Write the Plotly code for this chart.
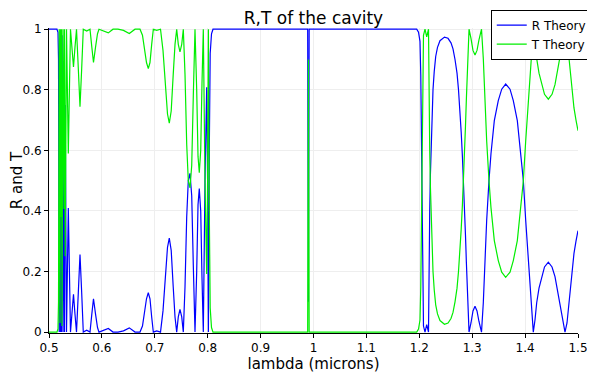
import plotly.graph_objects as go

# wavelength samples (microns)
lam = [
    0.5000, 0.5150, 0.5170, 0.5180, 0.5193, 0.5208, 0.5217, 0.5227, 0.5236, 0.5246,
    0.5265, 0.5284, 0.5293, 0.5306, 0.5331, 0.5365, 0.5406, 0.5435, 0.5463, 0.5491,
    0.5520, 0.5554, 0.5586, 0.5618, 0.5648, 0.5713, 0.5775, 0.5807, 0.5841, 0.5879,
    0.5917, 0.5945, 0.6030, 0.6121, 0.6210, 0.6304, 0.6408, 0.6518, 0.6626, 0.6720,
    0.6767, 0.6805, 0.6843, 0.6877, 0.6909, 0.6941, 0.6972, 0.7036, 0.7108, 0.7155,
    0.7202, 0.7240, 0.7274, 0.7310, 0.7348, 0.7382, 0.7414, 0.7444, 0.7476, 0.7509,
    0.7539, 0.7571, 0.7603, 0.7633, 0.7665, 0.7698, 0.7728, 0.7760, 0.7792, 0.7817,
    0.7841, 0.7868, 0.7892, 0.7917, 0.7949, 0.7981, 0.7998, 0.8013, 0.8030, 0.8047,
    0.8072, 0.8100, 0.9890, 0.9904, 0.9918, 1.1951, 1.1985, 1.2013, 1.2028, 1.2047,
    1.2064, 1.2079, 1.2108, 1.2140, 1.2174, 1.2183, 1.2197, 1.2210, 1.2225, 1.2240,
    1.2259, 1.2282, 1.2310, 1.2344, 1.2391, 1.2476, 1.2543, 1.2599, 1.2637, 1.2675,
    1.2713, 1.2741, 1.2769, 1.2792, 1.2815, 1.2836, 1.2855, 1.2873, 1.2890, 1.2907,
    1.2924, 1.2940, 1.2977, 1.3015, 1.3053, 1.3091, 1.3128, 1.3176, 1.3210, 1.3242,
    1.3274, 1.3318, 1.3355, 1.3418, 1.3493, 1.3558, 1.3633, 1.3715, 1.3777, 1.3853,
    1.3917, 1.3966, 1.4011, 1.4055, 1.4112, 1.4155, 1.4187, 1.4219, 1.4263, 1.4314,
    1.4367, 1.4439, 1.4509, 1.4565, 1.4609, 1.4647, 1.4698, 1.4754, 1.4792, 1.4830,
    1.4877, 1.4924, 1.4962, 1.5000,
]

# reflectance
R_theory = [
    1.000, 1.000, 0.990, 0.900, 0.000, 0.970, 0.000, 0.620, 0.000, 0.980,
    0.000, 0.594, 0.000, 0.750, 0.000, 0.410, 0.000, 0.060, 0.125, 0.060,
    0.000, 0.130, 0.256, 0.130, 0.000, 0.006, 0.000, 0.055, 0.110, 0.060,
    0.015, 0.000, 0.006, 0.012, 0.000, 0.000, 0.004, 0.014, 0.000, 0.000,
    0.020, 0.060, 0.110, 0.130, 0.110, 0.050, 0.000, 0.004, 0.000, 0.070,
    0.190, 0.280, 0.310, 0.270, 0.150, 0.050, 0.000, 0.050, 0.075, 0.050,
    0.000, 0.150, 0.380, 0.500, 0.524, 0.450, 0.220, 0.000, 0.200, 0.420,
    0.474, 0.400, 0.180, 0.000, 0.500, 0.808, 0.500, 0.000, 0.600, 0.920,
    0.985, 1.000, 1.000, 0.100, 1.000, 1.000, 0.990, 0.960, 0.850, 0.500,
    0.150, 0.020, 0.000, 0.025, 0.000, 0.220, 0.400, 0.520, 0.630, 0.720,
    0.800, 0.860, 0.910, 0.940, 0.962, 0.974, 0.970, 0.955, 0.935, 0.900,
    0.855, 0.800, 0.735, 0.660, 0.580, 0.500, 0.410, 0.320, 0.230, 0.140,
    0.060, 0.000, 0.030, 0.070, 0.085, 0.070, 0.035, 0.000, 0.097, 0.261,
    0.370, 0.502, 0.589, 0.698, 0.764, 0.802, 0.819, 0.802, 0.764, 0.698,
    0.589, 0.502, 0.370, 0.261, 0.097, 0.000, 0.040, 0.097, 0.145, 0.183,
    0.215, 0.231, 0.215, 0.183, 0.140, 0.097, 0.045, 0.000, 0.030, 0.097,
    0.180, 0.260, 0.300, 0.335,
]

# transmittance
T_theory = [
    0.000, 0.000, 0.010, 0.100, 1.000, 0.030, 1.000, 0.380, 1.000, 0.020,
    1.000, 0.406, 1.000, 0.250, 1.000, 0.590, 1.000, 0.940, 0.875, 0.940,
    1.000, 0.870, 0.744, 0.870, 1.000, 0.994, 1.000, 0.945, 0.890, 0.940,
    0.985, 1.000, 0.994, 0.988, 1.000, 1.000, 0.996, 0.986, 1.000, 1.000,
    0.980, 0.940, 0.890, 0.870, 0.890, 0.950, 1.000, 0.996, 1.000, 0.930,
    0.810, 0.720, 0.690, 0.730, 0.850, 0.950, 1.000, 0.950, 0.925, 0.950,
    1.000, 0.850, 0.620, 0.500, 0.476, 0.550, 0.780, 1.000, 0.800, 0.580,
    0.526, 0.600, 0.820, 1.000, 0.500, 0.192, 0.500, 1.000, 0.400, 0.080,
    0.015, 0.000, 0.000, 0.900, 0.000, 0.000, 0.010, 0.040, 0.150, 0.500,
    0.850, 0.980, 1.000, 0.975, 1.000, 0.780, 0.600, 0.480, 0.370, 0.280,
    0.200, 0.140, 0.090, 0.060, 0.038, 0.026, 0.030, 0.045, 0.065, 0.100,
    0.145, 0.200, 0.265, 0.340, 0.420, 0.500, 0.590, 0.680, 0.770, 0.860,
    0.940, 1.000, 0.970, 0.930, 0.915, 0.930, 0.965, 1.000, 0.903, 0.739,
    0.630, 0.498, 0.411, 0.302, 0.236, 0.198, 0.181, 0.198, 0.236, 0.302,
    0.411, 0.498, 0.630, 0.739, 0.903, 1.000, 0.960, 0.903, 0.855, 0.817,
    0.785, 0.769, 0.785, 0.817, 0.860, 0.903, 0.955, 1.000, 0.970, 0.903,
    0.820, 0.740, 0.700, 0.665,
]

x_ticks = [0.5, 0.6, 0.7, 0.8, 0.9, 1.0, 1.1, 1.2, 1.3, 1.4, 1.5]
x_tick_labels = ["0.5", "0.6", "0.7", "0.8", "0.9", "1", "1.1", "1.2", "1.3", "1.4", "1.5"]
y_ticks = [0, 0.2, 0.4, 0.6, 0.8, 1.0]
y_tick_labels = ["0", "0.2", "0.4", "0.6", "0.8", "1"]

FONT = "DejaVu Sans"

fig = go.Figure()
fig.add_trace(go.Scatter(x=lam, y=R_theory, mode="lines", name="R Theory",
                         line=dict(color="#0000ff", width=1.2)))
fig.add_trace(go.Scatter(x=lam, y=T_theory, mode="lines", name="T Theory",
                         line=dict(color="#00ee00", width=1.2)))

# the page body adds an 8px offset, so the figure is 8px smaller each way
W, H = 587, 370
fig.update_layout(
    width=W, height=H,
    margin=dict(l=41, r=17, t=20, b=45, autoexpand=False),
    paper_bgcolor="white", plot_bgcolor="white",
    font=dict(family=FONT, size=12, color="black"),
    title=dict(text="R,T of the cavity", x=0.5, xref="paper",
               y=1 - 10 / H, yref="container", yanchor="middle", xanchor="center",
               font=dict(family=FONT, size=17, color="black")),
    showlegend=True,
    legend=dict(x=1.026, xanchor="right", y=1.06, yanchor="top",
                bgcolor="white", bordercolor="black", borderwidth=1,
                font=dict(family=FONT, size=12, color="black"),
                tracegroupgap=0, itemwidth=30),
    xaxis=dict(range=[0.5, 1.5], tickvals=x_ticks, ticktext=x_tick_labels,
               showgrid=True, gridcolor="#eeeeee", zeroline=False,
               showline=True, linecolor="black", linewidth=1,
               ticks="outside", ticklen=4, tickcolor="black",
               tickfont=dict(size=12),
               title=dict(text="lambda (microns)", font=dict(size=15), standoff=4)),
    yaxis=dict(range=[-0.003, 1.004], tickvals=y_ticks, ticktext=y_tick_labels,
               showgrid=True, gridcolor="#eeeeee", zeroline=False,
               showline=True, linecolor="black", linewidth=1,
               ticks="outside", ticklen=4, tickcolor="black",
               tickfont=dict(size=12),
               title=dict(text="R and T", font=dict(size=15), standoff=11)),
)

fig.write_html("out.html")
